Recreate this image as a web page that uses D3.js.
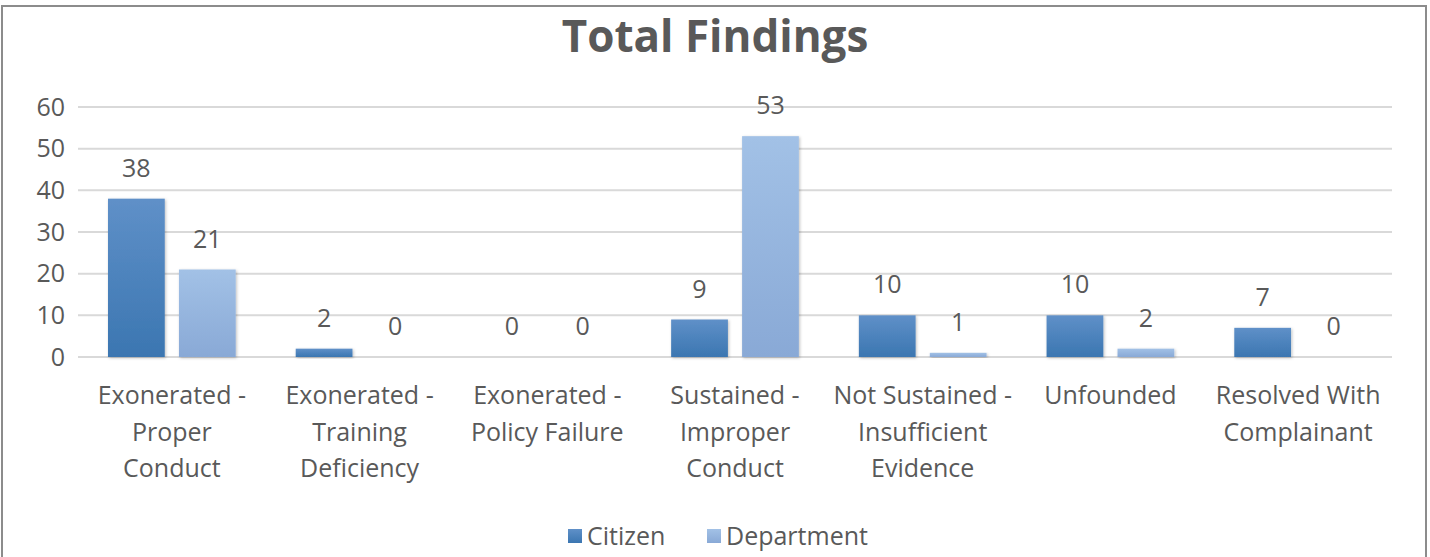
<!DOCTYPE html>
<html>
<head>
<meta charset="utf-8">
<script src="https://cdn.jsdelivr.net/npm/d3@7"></script>
<style>
  body { margin: 0; background: #fff; }
  text { font-family: "Open Sans", "Noto Sans", sans-serif; fill: #595959; }
</style>
</head>
<body>
<div id="chart"></div>
<script>
// category labels, line breaks as in the original chart
const categories = [
  "Exonerated -\nProper\nConduct",
  "Exonerated -\nTraining\nDeficiency",
  "Exonerated -\nPolicy Failure",
  "Sustained -\nImproper\nConduct",
  "Not Sustained -\nInsufficient\nEvidence",
  "Unfounded",
  "Resolved With\nComplainant"
];
const seriesNames = ["Citizen", "Department"];
const citizen = [38, 2, 0, 9, 10, 10, 7];
const department = [21, 0, 0, 53, 1, 2, 0];
const yTicks = [0, 10, 20, 30, 40, 50, 60];

const width = 1430, height = 557;
const margin = {top: 107, right: 38, bottom: 200, left: 78};

const svg = d3.select('#chart').append('svg')
  .attr('width', width)
  .attr('height', height);

// gradients + shadow
const defs = svg.append('defs');
const grads = [
  {id: 'gCit', top: '#5f90c8', bottom: '#3b76b1'},
  {id: 'gDep', top: '#a2c1e6', bottom: '#89a9d6'}
];
grads.forEach(g => {
  const lg = defs.append('linearGradient').attr('id', g.id)
    .attr('x1', 0).attr('y1', 0).attr('x2', 0).attr('y2', 1);
  lg.append('stop').attr('offset', '0%').attr('stop-color', g.top);
  lg.append('stop').attr('offset', '100%').attr('stop-color', g.bottom);
});
const shadow = defs.append('filter').attr('id', 'shadow')
  .attr('x', '-20%').attr('y', '-20%').attr('width', '140%').attr('height', '140%');
shadow.append('feDropShadow').attr('dx', 1).attr('dy', 1)
  .attr('stdDeviation', 1.5).attr('flood-color', '#000').attr('flood-opacity', 0.25);

// outer frame
svg.append('rect')
  .attr('x', 2).attr('y', 6)
  .attr('width', 1424).attr('height', 570)
  .attr('fill', 'none')
  .attr('stroke', '#8c8c8c')
  .attr('stroke-width', 2);

const innerW = width - margin.left - margin.right;
const innerH = height - margin.top - margin.bottom;

const x0 = d3.scaleBand().domain(categories).range([0, innerW]).paddingInner(0).paddingOuter(0);
const x1 = d3.scaleBand().domain(seriesNames).range([30, x0.bandwidth() - 30]).paddingInner(0.2);
const y = d3.scaleLinear().domain([0, 60]).range([innerH, 0]);

const g = svg.append('g').attr('transform', `translate(${margin.left},${margin.top})`);

// gridlines
g.selectAll('.grid').data(yTicks).join('line')
  .attr('class', 'grid')
  .attr('x1', 0).attr('x2', innerW)
  .attr('y1', d => y(d)).attr('y2', d => y(d))
  .attr('stroke', '#d9d9d9').attr('stroke-width', 2);

// y axis labels
const yAxis = d3.axisLeft(y).tickValues(yTicks).tickSize(0).tickPadding(13);
g.append('g').call(yAxis)
  .call(a => a.select('.domain').remove())
  .selectAll('text')
  .attr('font-size', 25)
  .style('font-family', null);

// bars
const rows = categories.map((c, i) => ({cat: c, values: [
  {name: 'Citizen', v: citizen[i], fill: 'url(#gCit)'},
  {name: 'Department', v: department[i], fill: 'url(#gDep)'}
]}));

const cg = g.selectAll('.cat').data(rows).join('g')
  .attr('class', 'cat')
  .attr('transform', d => `translate(${x0(d.cat)},0)`);

cg.selectAll('rect').data(d => d.values).join('rect')
  .attr('x', d => x1(d.name))
  .attr('width', x1.bandwidth())
  .attr('y', d => y(d.v))
  .attr('height', d => innerH - y(d.v))
  .attr('fill', d => d.fill)
  .attr('filter', 'url(#shadow)');

cg.selectAll('.val').data(d => d.values).join('text')
  .attr('class', 'val')
  .attr('x', d => x1(d.name) + x1.bandwidth() / 2)
  .attr('y', d => y(d.v) - 22)
  .attr('text-anchor', 'middle')
  .attr('font-size', 25)
  .text(d => d.v);

// x axis labels
const xl = g.append('g').attr('transform', `translate(0,${innerH})`);
xl.selectAll('text').data(categories).join('text')
  .attr('x', d => x0(d) + x0.bandwidth() / 2)
  .attr('y', 47)
  .attr('text-anchor', 'middle')
  .attr('font-size', 25)
  .each(function(d) {
    const t = d3.select(this);
    d.split('\n').forEach((l, i) => {
      t.append('tspan')
        .attr('x', x0(d) + x0.bandwidth() / 2)
        .attr('dy', i === 0 ? 0 : 36.5)
        .text(l);
    });
  });

// title
svg.append('text')
  .attr('x', 715)
  .attr('y', 52)
  .attr('text-anchor', 'middle')
  .attr('font-size', 44)
  .attr('font-weight', 'bold')
  .text('Total Findings');

// legend
const legend = svg.append('g').attr('transform', 'translate(568,536)');
const legItems = [
  {name: 'Citizen', fill: 'url(#gCit)', x: 0},
  {name: 'Department', fill: 'url(#gDep)', x: 139}
];
const li = legend.selectAll('g').data(legItems).join('g')
  .attr('transform', d => `translate(${d.x},0)`);
li.append('rect')
  .attr('x', 0).attr('y', -7)
  .attr('width', 14).attr('height', 14)
  .attr('fill', d => d.fill);
li.append('text')
  .attr('x', 19).attr('y', 9)
  .attr('font-size', 25)
  .text(d => d.name);
</script>
</body>
</html>
